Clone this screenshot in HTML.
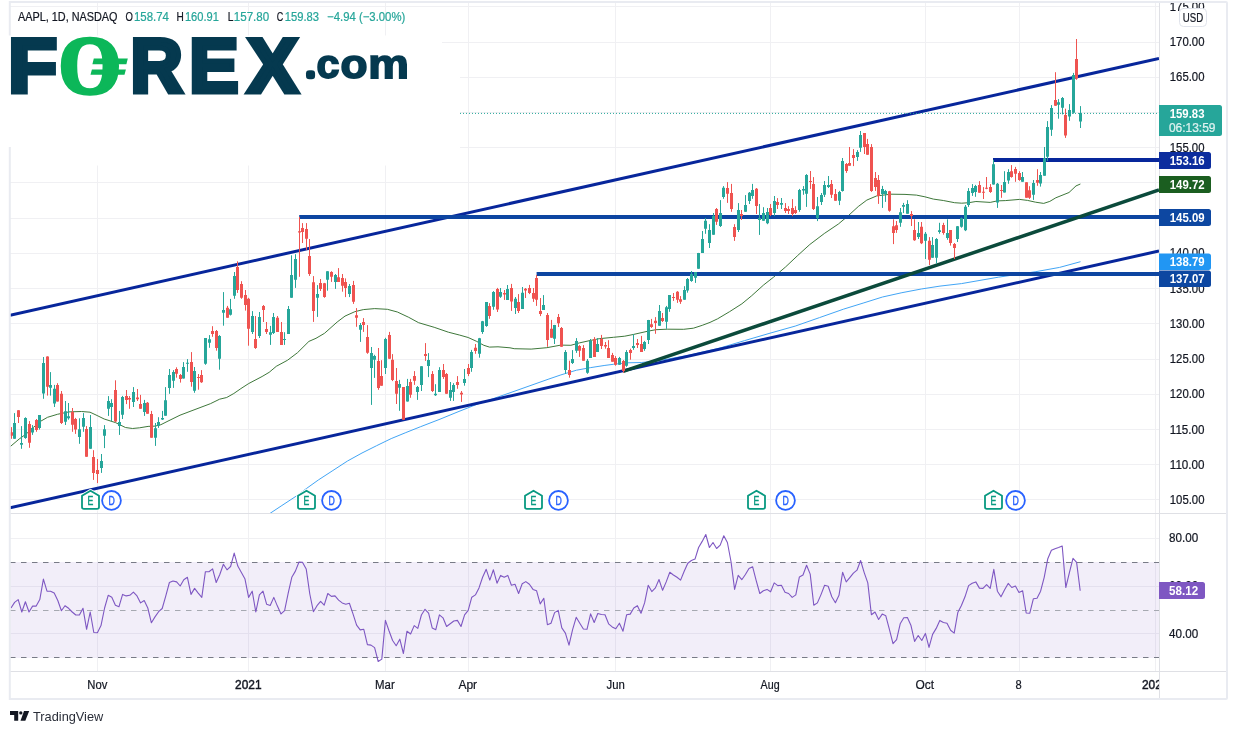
<!DOCTYPE html>
<html lang="en">
<head>
<meta charset="utf-8">
<title>AAPL, 1D, NASDAQ - FOREX.com - TradingView</title>
<style>
html,body{margin:0;padding:0;background:#fff;}
body{width:1237px;height:734px;overflow:hidden;font-family:"Liberation Sans", "DejaVu Sans", sans-serif;}
svg{display:block;}
text{white-space:pre;}
</style>
</head>
<body>
<svg width="1237" height="734" viewBox="0 0 1237 734" font-family='"Liberation Sans", "DejaVu Sans", sans-serif'>
<rect width="1237" height="734" fill="#fff"/>
<g id="grid">
<g stroke="#f0f0f3" stroke-width="1">
<line x1="10" x2="1159" y1="499.5" y2="499.5"/>
<line x1="10" x2="1159" y1="464.5" y2="464.5"/>
<line x1="10" x2="1159" y1="429.5" y2="429.5"/>
<line x1="10" x2="1159" y1="394.5" y2="394.5"/>
<line x1="10" x2="1159" y1="359.5" y2="359.5"/>
<line x1="10" x2="1159" y1="323.5" y2="323.5"/>
<line x1="10" x2="1159" y1="288.5" y2="288.5"/>
<line x1="10" x2="1159" y1="253.5" y2="253.5"/>
<line x1="10" x2="1159" y1="218.5" y2="218.5"/>
<line x1="10" x2="1159" y1="182.5" y2="182.5"/>
<line x1="10" x2="1159" y1="147.5" y2="147.5"/>
<line x1="10" x2="1159" y1="112.5" y2="112.5"/>
<line x1="10" x2="1159" y1="77.5" y2="77.5"/>
<line x1="10" x2="1159" y1="42.5" y2="42.5"/>
<line x1="10" x2="1159" y1="6.5" y2="6.5"/>
<line x1="10" x2="1159" y1="538.5" y2="538.5"/>
<line x1="10" x2="1159" y1="586.5" y2="586.5"/>
<line x1="10" x2="1159" y1="633.5" y2="633.5"/>
<line x1="97.5" x2="97.5" y1="1.9" y2="671.5"/>
<line x1="248.5" x2="248.5" y1="1.9" y2="671.5"/>
<line x1="385.5" x2="385.5" y1="1.9" y2="671.5"/>
<line x1="468.5" x2="468.5" y1="1.9" y2="671.5"/>
<line x1="615.5" x2="615.5" y1="1.9" y2="671.5"/>
<line x1="770.5" x2="770.5" y1="1.9" y2="671.5"/>
<line x1="925.5" x2="925.5" y1="1.9" y2="671.5"/>
<line x1="1019.5" x2="1019.5" y1="1.9" y2="671.5"/>
<line x1="1155.5" x2="1155.5" y1="1.9" y2="671.5"/>
</g>
</g>
<g id="rsi-band">
<rect x="10" y="562" width="1149" height="96" fill="#7e57c2" fill-opacity="0.1"/>
<line x1="10" x2="1159" y1="562.5" y2="562.5" stroke="#787b86" stroke-width="1" stroke-dasharray="5.5 5.5"/>
<line x1="10" x2="1159" y1="610.5" y2="610.5" stroke="#a6a9b1" stroke-width="1" stroke-dasharray="5.5 5.5"/>
<line x1="10" x2="1159" y1="657.5" y2="657.5" stroke="#787b86" stroke-width="1" stroke-dasharray="5.5 5.5"/>
</g>
<g id="chart">
<clipPath id="pc"><rect x="10" y="3" width="1149" height="510.4"/></clipPath>
<g clip-path="url(#pc)">
<polyline points="266.0,516.0 270.9,512.8 281.9,505.5 296.4,496.0 306.6,488.4 318.3,480.0 332.9,470.5 347.5,461.0 362.0,453.0 376.6,445.7 391.2,438.6 405.8,432.6 420.3,426.8 440.0,419.2 458.0,411.8 476.7,404.4 510.0,392.8 548.9,379.0 560.9,374.9 576.5,370.2 590.7,367.6 604.9,365.4 613.4,364.3 627.5,362.8 641.7,362.5 660.0,360.5 690.0,355.0 720.0,348.0 744.3,340.7 771.0,332.9 795.2,326.1 819.5,317.6 843.7,309.1 863.1,303.1 882.5,297.0 901.9,292.7 921.3,289.0 940.0,286.1 961.5,283.6 998.3,277.2 1035.1,271.8 1059.6,267.4 1080.5,261.7" fill="none" stroke="#42a5f5" stroke-width="1.0" stroke-linejoin="round"/>
<polyline points="10.0,446.8 19.2,439.0 26.3,433.9 33.3,427.5 40.4,421.4 47.5,417.3 57.4,414.3 68.8,411.9 81.5,411.5 90.0,412.2 97.1,415.5 104.2,419.0 115.5,422.6 125.4,427.5 132.5,428.5 139.6,427.8 148.1,426.4 155.2,426.1 160.9,424.7 168.0,421.1 180.0,415.2 195.0,409.5 210.4,403.7 219.6,399.2 226.7,397.5 233.8,393.5 240.9,388.6 248.6,383.6 262.1,376.5 269.2,372.3 276.3,366.3 287.6,360.2 297.5,352.7 308.9,341.4 316.0,338.3 324.5,333.3 337.2,322.0 345.0,316.1 354.8,311.7 363.3,309.6 374.7,308.6 387.4,309.3 397.4,312.0 408.7,317.3 418.6,322.7 434.2,327.3 448.4,332.2 459.7,335.1 468.2,337.5 476.7,341.4 483.8,345.3 489.5,347.1 498.0,346.8 510.0,347.8 514.2,348.7 531.2,349.1 546.8,347.7 560.9,345.1 570.9,345.3 579.4,342.9 590.7,340.4 599.2,338.7 613.4,337.3 624.7,336.2 633.2,334.5 647.4,331.3 655.9,329.7 667.2,329.2 683.7,329.3 693.4,328.2 702.3,325.3 710.0,322.4 717.6,318.8 729.7,311.6 741.9,303.8 751.6,295.8 763.7,284.9 773.4,277.3 785.5,267.0 797.7,255.5 809.8,244.5 824.3,233.5 838.4,224.0 848.3,215.7 858.3,206.5 866.8,200.1 876.7,195.9 890.9,194.2 905.0,194.4 916.4,195.1 924.9,196.8 933.4,199.1 943.3,200.5 954.6,202.7 961.7,203.2 968.8,202.7 975.9,201.5 990.2,202.4 997.2,200.9 1005.3,200.6 1019.5,199.4 1027.5,200.4 1035.6,202.2 1043.7,203.4 1049.8,201.4 1055.8,197.8 1069.0,192.5 1076.0,185.9 1080.4,184.0" fill="none" stroke="#34702f" stroke-width="0.95" stroke-linejoin="round"/>
<g stroke-linecap="butt" fill="none">
<line x1="10" y1="315.2" x2="1159" y2="58.4" stroke="#07269b" stroke-width="3.0"/>
<line x1="10" y1="507.8" x2="1159" y2="251.0" stroke="#07269b" stroke-width="3.0"/>
<line x1="299.2" y1="217" x2="1159" y2="217" stroke="#0d45a1" stroke-width="4"/>
<line x1="536.6" y1="274" x2="1159" y2="274" stroke="#0d45a1" stroke-width="4"/>
<line x1="993" y1="160" x2="1159" y2="160" stroke="#07269b" stroke-width="4"/>
<line x1="623.2" y1="371.3" x2="1159" y2="189.9" stroke="#0b4a3b" stroke-width="3.5"/>
</g>
<line x1="460" x2="1159" y1="113.4" y2="113.4" stroke="#26a69a" stroke-width="1" stroke-dasharray="1 2"/>
<path d="M14.5 413.1V438.8M21.5 426.1V448.8M25.5 417.3V438.8M32.5 425.1V434.9M39.5 415.0V429.6M43.5 357.0V398.8M50.5 372.1V395.6M54.5 384.9V407.0M65.5 401.0V425.0M68.5 403.0V419.7M79.5 418.3V443.8M83.5 413.1V431.8M90.5 415.0V448.8M101.5 454.0V472.9M104.5 425.1V448.1M108.5 396.1V415.9M111.5 399.2V421.1M119.5 410.9V434.9M122.5 395.9V419.0M133.5 387.1V407.0M144.5 399.9V415.9M155.5 423.0V445.9M158.5 417.2V427.9M162.5 410.9V420.0M165.5 387.1V415.7M169.5 369.0V393.8M173.5 370.1V387.9M183.5 362.1V378.6M187.5 359.1V371.8M194.5 367.0V392.8M205.5 338.0V364.8M209.5 335.1V347.8M219.5 335.1V369.7M223.5 292.1V325.7M230.5 298.9V315.5M234.5 272.0V298.8M252.5 311.1V334.0M259.5 312.0V338.0M270.5 325.9V344.9M273.5 313.0V334.0M284.5 332.2V344.9M288.5 306.0V334.0M291.5 255.3V297.8M295.5 254.2V287.9M317.5 285.1V316.9M327.5 271.2V290.7M335.5 274.0V288.9M349.5 284.0V297.1M360.5 323.0V341.9M371.5 347.0V404.9M374.5 354.8V377.9M385.5 337.8V374.0M399.5 379.9V410.8M407.5 378.9V401.6M417.5 386.0V399.9M421.5 366.2V391.0M428.5 353.1V377.1M435.5 384.2V395.9M439.5 367.2V392.0M450.5 382.0V400.9M453.5 383.2V400.9M464.5 369.0V385.7M471.5 349.9V371.8M479.5 337.9V357.7M482.5 320.9V333.9M486.5 302.0V326.8M493.5 291.1V309.8M500.5 288.0V297.9M507.5 285.0V299.9M515.5 297.0V314.0M522.5 287.0V309.0M543.5 295.1V310.0M554.5 324.9V344.0M565.5 350.1V373.8M572.5 350.1V364.0M576.5 338.1V352.9M587.5 359.0V373.8M590.5 339.0V357.9M597.5 338.1V351.9M619.5 356.9V364.7M626.5 350.1V366.8M633.5 334.1V349.8M644.5 340.9V350.8M648.5 319.9V344.0M659.5 305.0V325.7M666.5 305.9V328.8M669.5 295.1V311.8M684.5 286.2V299.8M687.5 278.0V292.7M691.5 271.0V281.8M695.5 272.1V282.9M698.5 252.9V268.8M702.5 231.0V252.9M705.5 217.9V233.8M709.5 224.2V248.0M713.5 213.0V234.8M720.5 200.1V227.0M723.5 186.1V198.8M738.5 203.1V232.0M745.5 195.1V211.8M749.5 192.0V204.0M752.5 183.9V198.8M759.5 204.0V234.9M763.5 207.2V220.8M767.5 208.0V224.2M774.5 196.0V216.1M781.5 198.0V209.0M799.5 188.9V211.8M803.5 186.1V194.8M806.5 174.1V206.9M817.5 197.0V221.1M821.5 193.0V205.0M824.5 181.0V197.0M828.5 176.0V188.0M839.5 190.9V205.1M842.5 158.0V191.6M857.5 150.1V160.9M860.5 131.0V151.9M882.5 185.9V207.9M885.5 189.9V201.9M900.5 208.0V226.8M903.5 202.9V213.1M907.5 200.2V213.7M918.5 222.0V239.0M925.5 232.0V259.0M932.5 237.1V257.8M936.5 238.1V263.6M939.5 222.8V233.7M947.5 219.3V239.8M957.5 226.0V242.0M961.5 217.5V227.7M965.5 205.0V231.1M968.5 188.1V206.9M972.5 184.1V195.9M975.5 184.9V196.8M993.5 159.9V184.6M997.5 183.0V207.9M1004.5 171.2V192.5M1008.5 169.2V183.8M1022.5 172.0V181.8M1033.5 180.0V199.9M1040.5 172.0V186.6M1044.5 147.0V175.7M1047.5 121.1V160.9M1051.5 105.1V135.9M1058.5 99.1V118.7M1062.5 97.0V114.4M1069.5 104.1V120.8M1073.5 72.9V113.7M1080.5 106.1V128.0" stroke="#26a69a" stroke-width="1" fill="none"/>
<path d="M13 423.0h3V438.8h-3zM20 443.1h3V444.8h-3zM24 417.9h3V438.1h-3zM31 427.9h3V432.5h-3zM38 415.0h3V427.9h-3zM42 363.1h3V393.5h-3zM49 384.9h3V387.7h-3zM53 388.8h3V403.4h-3zM64 411.2h3V421.8h-3zM67 416.2h3V418.3h-3zM78 429.2h3V437.0h-3zM82 417.9h3V426.8h-3zM89 427.1h3V448.8h-3zM100 461.1h3V467.9h-3zM103 429.2h3V435.7h-3zM107 401.0h3V408.8h-3zM110 403.1h3V407.0h-3zM118 422.1h3V426.1h-3zM121 397.0h3V414.8h-3zM132 392.1h3V402.0h-3zM143 403.0h3V411.9h-3zM154 428.2h3V437.7h-3zM157 422.1h3V425.8h-3zM161 418.0h3V419.4h-3zM164 400.2h3V415.7h-3zM168 375.1h3V387.9h-3zM172 372.0h3V380.8h-3zM182 367.0h3V378.6h-3zM186 362.8h3V363.8h-3zM193 371.1h3V390.7h-3zM204 338.0h3V363.8h-3zM208 339.3h3V342.8h-3zM218 336.1h3V358.8h-3zM222 309.9h3V312.7h-3zM229 309.2h3V314.8h-3zM233 276.1h3V295.7h-3zM251 316.0h3V331.9h-3zM258 317.0h3V335.9h-3zM269 332.2h3V334.7h-3zM272 317.0h3V333.0h-3zM283 339.0h3V340.0h-3zM287 308.9h3V334.0h-3zM290 275.1h3V297.8h-3zM294 259.1h3V279.7h-3zM316 294.0h3V297.8h-3zM326 271.2h3V279.7h-3zM334 274.9h3V281.9h-3zM348 285.9h3V294.0h-3zM359 324.9h3V329.8h-3zM370 353.0h3V367.9h-3zM373 356.0h3V359.8h-3zM384 339.0h3V367.9h-3zM398 383.9h3V387.7h-3zM406 386.0h3V401.6h-3zM416 387.0h3V392.0h-3zM420 366.2h3V384.9h-3zM427 360.1h3V365.9h-3zM434 393.8h3V395.2h-3zM438 370.0h3V392.0h-3zM449 390.0h3V397.8h-3zM452 384.9h3V392.0h-3zM463 378.9h3V382.9h-3zM470 352.0h3V367.9h-3zM478 338.2h3V353.8h-3zM481 321.2h3V331.9h-3zM485 302.0h3V325.9h-3zM492 292.1h3V306.7h-3zM499 292.1h3V296.8h-3zM506 289.0h3V299.9h-3zM514 298.8h3V307.9h-3zM521 292.7h3V309.0h-3zM542 305.0h3V310.0h-3zM553 324.9h3V338.8h-3zM564 351.9h3V369.9h-3zM571 359.0h3V362.9h-3zM575 340.9h3V350.8h-3zM586 360.7h3V372.8h-3zM589 340.9h3V357.9h-3zM596 344.0h3V351.9h-3zM618 357.9h3V364.7h-3zM625 351.9h3V365.7h-3zM632 346.1h3V348.0h-3zM643 342.0h3V349.0h-3zM647 319.9h3V339.9h-3zM658 311.1h3V325.7h-3zM665 307.2h3V321.8h-3zM668 295.1h3V309.0h-3zM683 290.1h3V299.8h-3zM686 278.9h3V290.6h-3zM690 274.1h3V281.0h-3zM694 272.1h3V277.7h-3zM697 252.9h3V268.8h-3zM701 239.0h3V252.9h-3zM704 220.8h3V228.8h-3zM708 230.0h3V243.0h-3zM712 216.1h3V234.8h-3zM719 213.0h3V226.0h-3zM722 187.8h3V197.0h-3zM737 210.0h3V230.0h-3zM744 205.0h3V211.8h-3zM748 192.7h3V200.9h-3zM751 189.9h3V196.0h-3zM758 217.9h3V219.9h-3zM762 213.0h3V220.8h-3zM766 212.1h3V223.2h-3zM773 200.9h3V213.0h-3zM780 203.1h3V204.8h-3zM798 189.9h3V210.0h-3zM802 188.9h3V190.6h-3zM805 175.1h3V193.8h-3zM816 206.2h3V217.9h-3zM820 195.1h3V201.9h-3zM823 184.9h3V194.8h-3zM827 184.9h3V187.0h-3zM838 192.0h3V200.8h-3zM841 160.9h3V190.9h-3zM856 151.9h3V156.9h-3zM859 134.9h3V147.7h-3zM881 189.0h3V194.0h-3zM884 190.9h3V194.0h-3zM899 212.3h3V222.8h-3zM902 205.0h3V206.8h-3zM906 204.0h3V213.7h-3zM917 232.9h3V237.1h-3zM924 233.7h3V240.8h-3zM931 245.0h3V257.8h-3zM935 239.0h3V257.8h-3zM938 230.2h3V232.0h-3zM946 232.9h3V238.0h-3zM956 226.2h3V239.0h-3zM960 218.3h3V226.8h-3zM964 206.8h3V230.2h-3zM967 190.9h3V205.1h-3zM971 188.1h3V193.0h-3zM974 185.9h3V192.0h-3zM992 164.2h3V184.6h-3zM996 183.7h3V202.6h-3zM1003 182.1h3V192.5h-3zM1007 172.0h3V180.6h-3zM1021 177.0h3V181.8h-3zM1032 183.0h3V194.8h-3zM1039 175.0h3V183.6h-3zM1043 158.3h3V175.7h-3zM1046 127.0h3V156.8h-3zM1050 108.0h3V129.7h-3zM1057 102.2h3V104.7h-3zM1061 98.0h3V107.7h-3zM1068 110.1h3V116.6h-3zM1072 75.1h3V112.7h-3zM1079 113.0h3V121.6h-3z" fill="#26a69a"/>
<path d="M11.5 427.1V438.8M18.5 410.2V423.0M29.5 421.1V447.8M36.5 419.0V431.8M47.5 356.3V395.6M57.5 383.2V401.6M61.5 391.0V424.0M72.5 408.0V431.8M75.5 417.9V433.9M86.5 426.1V456.8M93.5 450.2V479.9M97.5 459.0V483.1M115.5 380.3V422.1M126.5 390.0V404.1M129.5 396.1V408.8M137.5 389.0V401.0M140.5 394.9V408.8M147.5 402.0V413.8M151.5 410.9V437.7M176.5 367.3V377.7M180.5 374.0V382.6M191.5 352.1V386.7M198.5 374.0V389.7M201.5 370.1V382.9M212.5 326.2V336.8M216.5 330.0V350.7M227.5 305.9V317.7M237.5 261.3V292.9M241.5 281.2V298.8M245.5 290.0V310.6M248.5 297.8V345.7M255.5 316.0V348.9M263.5 305.0V322.0M266.5 322.0V334.0M277.5 316.0V331.9M281.5 322.0V344.9M299.5 217.0V276.8M302.5 223.1V243.0M306.5 223.1V249.9M309.5 239.0V275.9M313.5 276.1V321.9M320.5 279.0V291.0M324.5 282.9V297.8M331.5 271.2V281.9M338.5 268.1V281.9M342.5 274.0V291.7M345.5 278.4V297.1M353.5 280.9V303.9M356.5 308.1V326.8M363.5 318.1V331.9M367.5 325.1V353.8M378.5 348.0V389.8M381.5 360.2V385.7M389.5 331.9V358.8M392.5 354.1V381.1M396.5 368.0V404.0M403.5 387.0V419.7M410.5 378.9V397.8M414.5 371.1V384.9M425.5 343.1V360.9M432.5 371.1V392.0M443.5 364.0V378.9M446.5 373.0V393.8M457.5 376.1V388.8M461.5 391.0V401.9M468.5 364.0V376.1M475.5 344.0V353.8M489.5 303.2V318.8M497.5 287.9V312.0M504.5 290.0V299.9M511.5 283.9V310.9M518.5 294.1V313.0M525.5 288.0V298.0M529.5 284.9V294.1M533.5 288.0V301.9M536.5 275.0V305.9M540.5 298.0V316.1M547.5 313.0V346.8M551.5 319.9V337.8M558.5 314.0V327.0M561.5 327.0V346.8M569.5 360.7V377.7M579.5 345.1V356.9M583.5 345.1V360.7M594.5 337.1V356.9M601.5 334.9V349.0M605.5 342.0V348.7M608.5 340.2V357.9M612.5 352.9V361.7M615.5 356.1V365.7M623.5 360.0V372.8M630.5 348.7V359.7M637.5 339.0V348.0M641.5 335.9V351.9M651.5 318.9V327.9M655.5 317.1V333.8M662.5 313.0V322.0M673.5 293.0V300.9M677.5 291.1V302.9M680.5 296.1V303.9M716.5 208.0V224.9M727.5 182.1V202.9M731.5 183.9V211.8M734.5 224.2V240.9M741.5 210.0V219.9M756.5 188.0V214.0M770.5 204.0V216.1M777.5 198.1V209.0M785.5 203.1V213.0M788.5 206.2V214.0M792.5 199.1V216.1M795.5 206.2V214.0M810.5 171.0V188.9M813.5 177.1V210.0M831.5 180.0V198.0M835.5 189.0V200.8M846.5 163.0V172.9M849.5 147.0V165.8M853.5 149.1V166.1M864.5 133.1V154.0M867.5 138.9V154.8M871.5 144.1V191.9M875.5 172.0V190.9M878.5 175.0V203.9M889.5 190.9V211.7M893.5 219.3V244.1M896.5 221.0V232.9M911.5 211.1V226.0M914.5 219.3V240.8M921.5 222.0V244.1M929.5 237.1V265.0M943.5 222.8V234.7M950.5 230.1V245.6M954.5 243.0V259.0M979.5 181.1V192.7M983.5 187.1V199.0M986.5 177.0V189.2M990.5 184.1V192.9M1001.5 185.0V197.8M1011.5 165.1V177.7M1015.5 166.9V181.8M1019.5 171.2V180.8M1026.5 182.2V197.8M1029.5 186.2V198.9M1037.5 169.2V185.8M1055.5 72.2V105.8M1065.5 108.7V137.9M1076.5 39.0V79.8" stroke="#ef5350" stroke-width="1" fill="none"/>
<path d="M10 432.2h3V435.7h-3zM17 410.2h3V416.9h-3zM28 424.0h3V442.8h-3zM35 420.0h3V430.1h-3zM46 356.5h3V386.7h-3zM56 384.9h3V401.6h-3zM60 393.8h3V423.0h-3zM71 411.9h3V424.7h-3zM74 419.0h3V429.6h-3zM85 428.9h3V456.8h-3zM92 457.0h3V472.9h-3zM96 470.0h3V474.0h-3zM114 390.0h3V421.4h-3zM125 396.1h3V399.9h-3zM128 398.0h3V399.6h-3zM136 397.5h3V399.2h-3zM139 404.1h3V408.8h-3zM146 402.7h3V413.8h-3zM150 414.0h3V437.7h-3zM175 369.0h3V373.7h-3zM179 375.1h3V378.9h-3zM190 362.1h3V381.9h-3zM197 376.9h3V377.9h-3zM200 375.1h3V382.2h-3zM211 330.9h3V334.0h-3zM215 330.9h3V347.9h-3zM226 307.7h3V317.7h-3zM236 266.9h3V290.0h-3zM240 284.1h3V297.8h-3zM244 295.0h3V304.9h-3zM247 298.8h3V328.7h-3zM254 339.0h3V347.9h-3zM262 306.0h3V309.9h-3zM265 329.0h3V331.9h-3zM276 317.7h3V331.9h-3zM280 331.9h3V344.9h-3zM298 231.2h3V232.6h-3zM301 228.1h3V231.9h-3zM305 229.1h3V238.7h-3zM308 256.0h3V274.0h-3zM312 282.2h3V310.9h-3zM319 282.9h3V289.0h-3zM323 283.2h3V297.1h-3zM330 272.0h3V276.8h-3zM337 277.3h3V281.9h-3zM341 278.0h3V285.8h-3zM344 281.9h3V287.9h-3zM352 285.0h3V301.8h-3zM355 315.2h3V317.8h-3zM362 322.0h3V324.9h-3zM366 336.9h3V352.8h-3zM377 360.9h3V388.1h-3zM380 376.1h3V385.7h-3zM388 335.0h3V358.8h-3zM391 359.8h3V379.9h-3zM395 381.1h3V393.8h-3zM402 387.0h3V419.7h-3zM409 382.0h3V394.8h-3zM413 376.1h3V380.8h-3zM424 354.1h3V356.0h-3zM431 374.0h3V391.0h-3zM442 370.0h3V377.1h-3zM445 374.0h3V393.8h-3zM456 382.0h3V384.9h-3zM460 392.8h3V394.5h-3zM467 368.0h3V374.0h-3zM474 347.8h3V351.1h-3zM488 306.0h3V315.9h-3zM496 289.0h3V309.6h-3zM503 293.0h3V294.4h-3zM510 288.0h3V301.6h-3zM517 301.9h3V310.9h-3zM524 288.7h3V290.6h-3zM528 288.0h3V293.1h-3zM532 293.0h3V298.8h-3zM535 278.1h3V299.8h-3zM539 311.1h3V314.0h-3zM546 315.1h3V339.9h-3zM550 328.8h3V337.8h-3zM557 317.1h3V323.2h-3zM560 327.9h3V346.8h-3zM568 369.9h3V374.9h-3zM578 345.9h3V350.8h-3zM582 348.0h3V360.7h-3zM593 339.0h3V356.9h-3zM600 339.0h3V345.9h-3zM604 344.9h3V346.6h-3zM607 348.0h3V357.9h-3zM611 355.1h3V361.7h-3zM614 357.9h3V364.7h-3zM622 361.0h3V371.1h-3zM629 350.1h3V352.9h-3zM636 343.0h3V344.9h-3zM640 344.0h3V351.9h-3zM650 324.2h3V327.0h-3zM654 320.8h3V322.9h-3zM661 317.9h3V321.1h-3zM672 297.0h3V298.0h-3zM676 291.8h3V299.8h-3zM679 299.3h3V301.8h-3zM715 209.0h3V221.8h-3zM726 188.0h3V193.8h-3zM730 193.0h3V209.0h-3zM733 227.0h3V236.9h-3zM740 214.0h3V216.1h-3zM755 188.7h3V205.9h-3zM769 208.0h3V215.1h-3zM776 201.9h3V205.0h-3zM784 208.0h3V210.9h-3zM787 209.0h3V210.9h-3zM791 208.0h3V214.0h-3zM794 210.0h3V213.0h-3zM809 181.0h3V182.1h-3zM812 183.9h3V209.0h-3zM830 183.9h3V194.8h-3zM834 194.0h3V200.8h-3zM845 164.0h3V171.1h-3zM848 163.0h3V165.8h-3zM852 155.0h3V157.9h-3zM863 133.1h3V147.0h-3zM866 144.1h3V154.8h-3zM870 147.0h3V190.9h-3zM874 178.1h3V186.9h-3zM877 180.0h3V195.9h-3zM888 191.2h3V210.7h-3zM892 226.2h3V232.9h-3zM895 225.3h3V230.1h-3zM910 214.1h3V215.9h-3zM913 230.1h3V240.2h-3zM920 226.8h3V243.2h-3zM928 240.8h3V259.8h-3zM942 225.0h3V232.9h-3zM949 230.1h3V243.0h-3zM953 244.1h3V248.1h-3zM978 184.9h3V192.7h-3zM982 191.7h3V192.7h-3zM985 187.7h3V188.7h-3zM989 187.1h3V191.9h-3zM1000 190.1h3V191.1h-3zM1010 171.2h3V177.0h-3zM1014 169.0h3V173.7h-3zM1018 173.0h3V180.1h-3zM1025 182.2h3V197.8h-3zM1028 190.3h3V197.8h-3zM1036 180.1h3V182.8h-3zM1054 100.1h3V105.8h-3zM1064 115.1h3V135.6h-3zM1075 59.0h3V78.6h-3z" fill="#ef5350"/>
<path d="M82.0 495.7L90.5 490.7L99.0 495.7V507q0 1.8 -1.8 1.8H83.8q-1.8 0 -1.8 -1.8Z" fill="#fff" stroke="#fff" stroke-width="3.6" stroke-linejoin="round"/>
<path d="M82.0 495.7L90.5 490.7L99.0 495.7V507q0 1.8 -1.8 1.8H83.8q-1.8 0 -1.8 -1.8Z" fill="#fff" stroke="#089981" stroke-width="1.8" stroke-linejoin="round"/>
<text x="87.6" y="504.7" font-size="12.2" fill="#089981" stroke="#089981" stroke-width="0.45" textLength="5.8" lengthAdjust="spacingAndGlyphs">E</text>
<path d="M298.0 495.7L306.5 490.7L315.0 495.7V507q0 1.8 -1.8 1.8H299.8q-1.8 0 -1.8 -1.8Z" fill="#fff" stroke="#fff" stroke-width="3.6" stroke-linejoin="round"/>
<path d="M298.0 495.7L306.5 490.7L315.0 495.7V507q0 1.8 -1.8 1.8H299.8q-1.8 0 -1.8 -1.8Z" fill="#fff" stroke="#089981" stroke-width="1.8" stroke-linejoin="round"/>
<text x="303.6" y="504.7" font-size="12.2" fill="#089981" stroke="#089981" stroke-width="0.45" textLength="5.8" lengthAdjust="spacingAndGlyphs">E</text>
<path d="M525.0 495.7L533.5 490.7L542.0 495.7V507q0 1.8 -1.8 1.8H526.8q-1.8 0 -1.8 -1.8Z" fill="#fff" stroke="#fff" stroke-width="3.6" stroke-linejoin="round"/>
<path d="M525.0 495.7L533.5 490.7L542.0 495.7V507q0 1.8 -1.8 1.8H526.8q-1.8 0 -1.8 -1.8Z" fill="#fff" stroke="#089981" stroke-width="1.8" stroke-linejoin="round"/>
<text x="530.6" y="504.7" font-size="12.2" fill="#089981" stroke="#089981" stroke-width="0.45" textLength="5.8" lengthAdjust="spacingAndGlyphs">E</text>
<path d="M748.0 495.7L756.5 490.7L765.0 495.7V507q0 1.8 -1.8 1.8H749.8q-1.8 0 -1.8 -1.8Z" fill="#fff" stroke="#fff" stroke-width="3.6" stroke-linejoin="round"/>
<path d="M748.0 495.7L756.5 490.7L765.0 495.7V507q0 1.8 -1.8 1.8H749.8q-1.8 0 -1.8 -1.8Z" fill="#fff" stroke="#089981" stroke-width="1.8" stroke-linejoin="round"/>
<text x="753.6" y="504.7" font-size="12.2" fill="#089981" stroke="#089981" stroke-width="0.45" textLength="5.8" lengthAdjust="spacingAndGlyphs">E</text>
<path d="M985.0 495.7L993.5 490.7L1002.0 495.7V507q0 1.8 -1.8 1.8H986.8q-1.8 0 -1.8 -1.8Z" fill="#fff" stroke="#fff" stroke-width="3.6" stroke-linejoin="round"/>
<path d="M985.0 495.7L993.5 490.7L1002.0 495.7V507q0 1.8 -1.8 1.8H986.8q-1.8 0 -1.8 -1.8Z" fill="#fff" stroke="#089981" stroke-width="1.8" stroke-linejoin="round"/>
<text x="990.6" y="504.7" font-size="12.2" fill="#089981" stroke="#089981" stroke-width="0.45" textLength="5.8" lengthAdjust="spacingAndGlyphs">E</text>
<circle cx="111.5" cy="500.4" r="10.4" fill="#fff"/>
<circle cx="111.5" cy="500.4" r="9.4" fill="#fff" stroke="#2962ff" stroke-width="1.8"/>
<text x="108.6" y="504.7" font-size="12.2" fill="#2962ff" stroke="#2962ff" stroke-width="0.45" textLength="6.3" lengthAdjust="spacingAndGlyphs">D</text>
<circle cx="331.5" cy="500.4" r="10.4" fill="#fff"/>
<circle cx="331.5" cy="500.4" r="9.4" fill="#fff" stroke="#2962ff" stroke-width="1.8"/>
<text x="328.6" y="504.7" font-size="12.2" fill="#2962ff" stroke="#2962ff" stroke-width="0.45" textLength="6.3" lengthAdjust="spacingAndGlyphs">D</text>
<circle cx="558.5" cy="500.4" r="10.4" fill="#fff"/>
<circle cx="558.5" cy="500.4" r="9.4" fill="#fff" stroke="#2962ff" stroke-width="1.8"/>
<text x="555.6" y="504.7" font-size="12.2" fill="#2962ff" stroke="#2962ff" stroke-width="0.45" textLength="6.3" lengthAdjust="spacingAndGlyphs">D</text>
<circle cx="785.5" cy="500.4" r="10.4" fill="#fff"/>
<circle cx="785.5" cy="500.4" r="9.4" fill="#fff" stroke="#2962ff" stroke-width="1.8"/>
<text x="782.6" y="504.7" font-size="12.2" fill="#2962ff" stroke="#2962ff" stroke-width="0.45" textLength="6.3" lengthAdjust="spacingAndGlyphs">D</text>
<circle cx="1015.5" cy="500.4" r="10.4" fill="#fff"/>
<circle cx="1015.5" cy="500.4" r="9.4" fill="#fff" stroke="#2962ff" stroke-width="1.8"/>
<text x="1012.6" y="504.7" font-size="12.2" fill="#2962ff" stroke="#2962ff" stroke-width="0.45" textLength="6.3" lengthAdjust="spacingAndGlyphs">D</text>
</g>
<polyline points="11.0,608.0 14.6,602.4 18.2,599.6 21.8,612.0 25.4,601.8 29.0,612.0 32.6,606.1 36.2,606.1 39.8,599.6 43.4,579.1 47.0,591.2 50.6,591.2 54.2,593.1 57.8,600.5 61.4,610.7 65.0,605.7 68.6,608.3 72.2,612.0 75.8,615.0 79.4,615.0 83.0,608.3 86.6,629.3 90.2,612.0 93.8,632.5 97.4,632.7 101.0,625.6 104.6,608.0 108.2,595.3 111.8,597.2 115.4,605.2 119.0,606.7 122.6,594.4 126.2,595.9 129.8,595.3 133.4,592.2 137.0,595.9 140.6,602.9 144.2,600.5 147.8,608.0 151.4,622.8 155.0,616.9 158.6,611.7 162.2,608.5 165.8,595.9 169.4,582.5 173.0,581.0 176.6,581.9 180.2,586.0 183.8,579.7 187.4,577.3 191.0,594.4 194.6,588.4 198.2,593.1 201.8,597.4 205.4,571.7 209.0,571.7 212.6,568.9 216.2,582.5 219.8,574.5 223.4,564.3 227.0,569.8 230.6,566.5 234.2,553.1 237.8,566.1 241.4,572.6 245.0,579.1 248.6,597.4 252.2,591.2 255.8,612.0 259.4,594.9 263.0,591.2 266.6,604.2 270.2,605.5 273.8,597.4 277.4,606.1 281.0,613.9 284.6,610.7 288.2,593.1 291.8,577.3 295.4,571.1 299.0,562.0 302.6,562.4 306.2,568.9 309.8,594.0 313.4,611.7 317.0,605.7 320.6,601.4 324.2,605.2 327.8,593.5 331.4,596.4 335.0,595.9 338.6,600.1 342.2,602.9 345.8,604.2 349.4,603.3 353.0,613.9 356.6,625.1 360.2,629.9 363.8,629.3 367.4,644.6 371.0,645.1 374.6,647.6 378.2,661.5 381.8,659.1 385.4,620.4 389.0,630.8 392.6,640.5 396.2,645.7 399.8,639.2 403.4,653.5 407.0,631.2 410.6,634.0 414.2,625.6 417.8,628.4 421.4,615.0 425.0,609.3 428.6,613.2 432.2,627.9 435.8,629.7 439.4,614.8 443.0,617.8 446.6,626.5 450.2,623.8 453.8,621.0 457.4,620.4 461.0,626.5 464.6,614.8 468.2,610.4 471.8,597.2 475.4,594.9 479.0,587.9 482.6,577.3 486.2,569.3 489.8,580.1 493.4,569.8 497.0,583.2 500.6,575.4 504.2,577.3 507.8,575.4 511.4,585.3 515.0,584.2 518.6,593.5 522.2,583.8 525.8,581.6 529.4,584.3 533.0,589.4 536.6,590.8 540.2,603.9 543.8,598.3 547.4,624.7 551.0,623.2 554.6,612.6 558.2,610.4 561.8,627.9 565.4,633.1 569.0,645.1 572.6,629.7 576.2,617.3 579.8,623.2 583.4,629.0 587.0,629.3 590.6,613.9 594.2,622.5 597.8,613.5 601.4,614.5 605.0,614.8 608.6,623.8 612.2,626.9 615.8,628.8 619.4,623.2 623.0,631.2 626.6,614.8 630.2,614.1 633.8,608.0 637.4,605.7 641.0,613.2 644.6,602.9 648.2,585.3 651.8,591.6 655.4,587.9 659.0,579.5 662.6,590.3 666.2,581.9 669.8,572.3 673.4,575.0 677.0,577.3 680.6,580.1 684.2,571.3 687.8,563.3 691.4,560.5 695.0,559.1 698.6,547.5 702.2,541.4 705.8,534.5 709.4,547.5 713.0,542.5 716.6,548.5 720.2,545.1 723.8,535.8 727.4,542.5 731.0,561.5 734.6,589.4 738.2,575.4 741.8,579.7 745.4,574.5 749.0,568.5 752.6,566.7 756.2,580.6 759.8,593.5 763.4,590.7 767.0,589.4 770.6,591.8 774.2,582.9 777.8,585.6 781.4,585.3 785.0,592.2 788.6,593.5 792.2,597.4 795.8,594.9 799.4,576.9 803.0,575.0 806.6,565.2 810.2,574.1 813.8,605.2 817.4,602.9 821.0,594.6 824.6,585.3 828.2,586.2 831.8,596.8 835.4,602.7 839.0,595.3 842.6,572.3 846.2,581.9 849.8,577.6 853.4,573.2 857.0,570.2 860.6,560.5 864.2,572.6 867.8,582.9 871.4,614.8 875.0,612.0 878.6,619.5 882.2,614.1 885.8,615.8 889.4,629.3 893.0,643.7 896.6,639.6 900.2,623.8 903.8,617.8 907.4,617.6 911.0,625.6 914.6,641.4 918.2,635.5 921.8,640.5 925.4,633.4 929.0,647.4 932.6,634.4 936.2,628.4 939.8,620.4 943.4,622.5 947.0,623.2 950.6,630.3 954.2,633.1 957.8,612.6 961.4,605.5 965.0,596.8 968.6,585.6 972.2,583.2 975.8,581.9 979.4,588.1 983.0,588.4 986.6,584.7 990.2,588.4 993.8,569.3 997.4,591.2 1001.0,596.8 1004.6,589.7 1008.2,583.4 1011.8,587.5 1015.4,586.0 1019.0,592.5 1022.6,590.7 1026.2,613.0 1029.8,613.2 1033.4,598.7 1037.0,598.3 1040.6,591.2 1044.2,577.3 1047.8,558.7 1051.4,550.3 1055.0,548.8 1058.6,547.5 1062.2,546.0 1065.8,587.5 1069.4,572.6 1073.0,558.3 1076.6,562.4 1080.2,590.7" fill="none" stroke="#7e57c2" stroke-width="1.1" stroke-linejoin="round"/>
</g>
<g id="legend">
<text y="21.3" font-size="12.3" stroke-width="0.22">
<tspan x="18.0" fill="#131722" stroke="#131722" textLength="99.5" lengthAdjust="spacingAndGlyphs">AAPL, 1D, NASDAQ</tspan>
<tspan fill="none" stroke="none">  </tspan>
<tspan x="125.4" fill="#131722" stroke="#131722" textLength="7.4" lengthAdjust="spacingAndGlyphs">O</tspan>
<tspan x="134.0" fill="#26a69a" stroke="#26a69a" textLength="34.9" lengthAdjust="spacingAndGlyphs">158.74</tspan>
<tspan fill="none" stroke="none">  </tspan>
<tspan x="176.4" fill="#131722" stroke="#131722" textLength="7.3" lengthAdjust="spacingAndGlyphs">H</tspan>
<tspan x="184.9" fill="#26a69a" stroke="#26a69a" textLength="34.0" lengthAdjust="spacingAndGlyphs">160.91</tspan>
<tspan fill="none" stroke="none">  </tspan>
<tspan x="227.8" fill="#131722" stroke="#131722" textLength="5.3" lengthAdjust="spacingAndGlyphs">L</tspan>
<tspan x="233.8" fill="#26a69a" stroke="#26a69a" textLength="35.4" lengthAdjust="spacingAndGlyphs">157.80</tspan>
<tspan fill="none" stroke="none">  </tspan>
<tspan x="276.7" fill="#131722" stroke="#131722" textLength="6.5" lengthAdjust="spacingAndGlyphs">C</tspan>
<tspan x="284.7" fill="#26a69a" stroke="#26a69a" textLength="34.3" lengthAdjust="spacingAndGlyphs">159.83</tspan>
<tspan fill="none" stroke="none">  </tspan>
<tspan x="327.1" fill="#26a69a" stroke="#26a69a" textLength="78.2" lengthAdjust="spacingAndGlyphs">−4.94 (−3.00%)</tspan>
</text>
</g>
<g id="logo">
<path d="M0 35.5H442V60H460V165.5H10.5V147H0Z" fill="#fff"/>
<text aria-label="FOREX.com" font-weight="bold" fill="#05394f" stroke="#05394f" stroke-linejoin="miter" font-size="75.6" stroke-width="5"><tspan x="8.2" y="91.7" textLength="48.89" lengthAdjust="spacingAndGlyphs">F</tspan><tspan x="58.55" y="92.8" textLength="62.81" lengthAdjust="spacingAndGlyphs" font-size="82" stroke-width="3.4" font-family="Liberation Serif, serif" fill="#0cb759" stroke="#0cb759">O</tspan><tspan x="130.5" y="91.7" textLength="52.19" lengthAdjust="spacingAndGlyphs">R</tspan><tspan x="189.35" y="91.7" textLength="49.31" lengthAdjust="spacingAndGlyphs">E</tspan><tspan x="247.4" y="91.7" textLength="50.28" lengthAdjust="spacingAndGlyphs">X</tspan><tspan x="308.2" y="75.55" textLength="4.58" lengthAdjust="spacingAndGlyphs" font-size="16" stroke-width="6.6" stroke-linejoin="round">.</tspan><tspan x="316.4" y="78.05" textLength="22.93" lengthAdjust="spacingAndGlyphs" font-size="41" stroke-width="1.75">c</tspan><tspan x="340.55" y="78.05" textLength="27.01" lengthAdjust="spacingAndGlyphs" font-size="41" stroke-width="1.75">o</tspan><tspan x="368.35" y="78.05" textLength="40.62" lengthAdjust="spacingAndGlyphs" font-size="41" stroke-width="1.75">m</tspan></text><path d="M93.8 58.6H127.8L126.4 64.2H92.4Z M91.9 69.4H125.9L124.5 74.7H90.5Z" fill="#0cb759"/>
</g>
<g id="axes">
<rect x="1159" y="0" width="78" height="734" fill="#fff"/>
<rect x="0" y="671.5" width="1237" height="62.5" fill="#fff"/>
<line x1="1159.5" x2="1159.5" y1="1.9" y2="699.0" stroke="#dfe0e5" stroke-width="1"/>
<text x="1169.8" y="503.9" font-size="12.3" fill="#131722" stroke="#131722" stroke-width="0.22" textLength="34.7" lengthAdjust="spacingAndGlyphs">105.00</text>
<text x="1169.8" y="468.9" font-size="12.3" fill="#131722" stroke="#131722" stroke-width="0.22" textLength="34.7" lengthAdjust="spacingAndGlyphs">110.00</text>
<text x="1169.8" y="433.9" font-size="12.3" fill="#131722" stroke="#131722" stroke-width="0.22" textLength="34.7" lengthAdjust="spacingAndGlyphs">115.00</text>
<text x="1169.8" y="397.9" font-size="12.3" fill="#131722" stroke="#131722" stroke-width="0.22" textLength="34.7" lengthAdjust="spacingAndGlyphs">120.00</text>
<text x="1169.8" y="362.9" font-size="12.3" fill="#131722" stroke="#131722" stroke-width="0.22" textLength="34.7" lengthAdjust="spacingAndGlyphs">125.00</text>
<text x="1169.8" y="327.9" font-size="12.3" fill="#131722" stroke="#131722" stroke-width="0.22" textLength="34.7" lengthAdjust="spacingAndGlyphs">130.00</text>
<text x="1169.8" y="292.9" font-size="12.3" fill="#131722" stroke="#131722" stroke-width="0.22" textLength="34.7" lengthAdjust="spacingAndGlyphs">135.00</text>
<text x="1169.8" y="256.9" font-size="12.3" fill="#131722" stroke="#131722" stroke-width="0.22" textLength="34.7" lengthAdjust="spacingAndGlyphs">140.00</text>
<text x="1169.8" y="151.9" font-size="12.3" fill="#131722" stroke="#131722" stroke-width="0.22" textLength="34.7" lengthAdjust="spacingAndGlyphs">155.00</text>
<text x="1169.8" y="80.9" font-size="12.3" fill="#131722" stroke="#131722" stroke-width="0.22" textLength="34.7" lengthAdjust="spacingAndGlyphs">165.00</text>
<text x="1169.8" y="45.9" font-size="12.3" fill="#131722" stroke="#131722" stroke-width="0.22" textLength="34.7" lengthAdjust="spacingAndGlyphs">170.00</text>
<text x="1169.8" y="10.9" font-size="12.3" fill="#131722" stroke="#131722" stroke-width="0.22" textLength="34.7" lengthAdjust="spacingAndGlyphs">175.00</text>
<text x="1169.1" y="542.0" font-size="12.3" fill="#131722" stroke="#131722" stroke-width="0.22" textLength="29.2" lengthAdjust="spacingAndGlyphs">80.00</text>
<text x="1169.1" y="589.8" font-size="12.3" fill="#131722" stroke="#131722" stroke-width="0.22" textLength="29.2" lengthAdjust="spacingAndGlyphs">60.00</text>
<text x="1169.1" y="638.0" font-size="12.3" fill="#131722" stroke="#131722" stroke-width="0.22" textLength="29.2" lengthAdjust="spacingAndGlyphs">40.00</text>
<rect x="1179.5" y="8.5" width="27" height="18" rx="4" fill="#fff" stroke="#e0e3eb" stroke-width="1"/>
<text x="1182.8" y="21.9" font-size="12.3" fill="#131722" stroke="#131722" stroke-width="0.22" textLength="20.4" lengthAdjust="spacingAndGlyphs">USD</text>
<path d="M1159 105H1219.5q2.5 0 2.5 2.5V133.5q0 2.5 -2.5 2.5H1159Z" fill="#26a69a"/>
<text x="1169.7" y="117.9" font-size="12.3" fill="#fff" font-weight="bold" textLength="34.8" lengthAdjust="spacingAndGlyphs">159.83</text>
<text x="1168.9" y="132.0" font-size="12.3" fill="#fff" stroke="#fff" stroke-width="0.22" textLength="46.6" lengthAdjust="spacingAndGlyphs" fill-opacity="0.78">06:13:59</text>
<path d="M1159 152H1208.5q2.5 0 2.5 2.5V166.5q0 2.5 -2.5 2.5H1159Z" fill="#0c2d9e"/>
<text x="1169.7" y="164.8" font-size="12.3" fill="#fff" font-weight="bold" textLength="34.9" lengthAdjust="spacingAndGlyphs">153.16</text>
<path d="M1159 176H1208.5q2.5 0 2.5 2.5V190.5q0 2.5 -2.5 2.5H1159Z" fill="#1b5e20"/>
<text x="1169.7" y="188.8" font-size="12.3" fill="#fff" font-weight="bold" textLength="34.9" lengthAdjust="spacingAndGlyphs">149.72</text>
<path d="M1159 209H1208.5q2.5 0 2.5 2.5V223.5q0 2.5 -2.5 2.5H1159Z" fill="#0d47a1"/>
<text x="1169.7" y="221.9" font-size="12.3" fill="#fff" font-weight="bold" textLength="34.9" lengthAdjust="spacingAndGlyphs">145.09</text>
<path d="M1159 253.4H1208.5q2.5 0 2.5 2.5V267.4q0 2.5 -2.5 2.5H1159Z" fill="#2196f3"/>
<text x="1169.7" y="266.0" font-size="12.3" fill="#fff" font-weight="bold" textLength="34.9" lengthAdjust="spacingAndGlyphs">138.79</text>
<path d="M1159 270.4H1208.5q2.5 0 2.5 2.5V284.4q0 2.5 -2.5 2.5H1159Z" fill="#0d47a1"/>
<text x="1169.7" y="283.0" font-size="12.3" fill="#fff" font-weight="bold" textLength="34.9" lengthAdjust="spacingAndGlyphs">137.07</text>
<path d="M1159 582H1202.5q2.5 0 2.5 2.5V596.5q0 2.5 -2.5 2.5H1159Z" fill="#7e57c2"/>
<text x="1169.1" y="594.8" font-size="12.3" fill="#fff" font-weight="bold" textLength="29.1" lengthAdjust="spacingAndGlyphs">58.12</text>
<text x="87.3" y="688.9" font-size="12.3" fill="#131722" stroke="#131722" stroke-width="0.22" textLength="20.0" lengthAdjust="spacingAndGlyphs">Nov</text>
<text x="235.1" y="688.9" font-size="12.3" fill="#131722" stroke="#131722" stroke-width="0.45" textLength="26.5" lengthAdjust="spacingAndGlyphs">2021</text>
<text x="375.1" y="688.9" font-size="12.3" fill="#131722" stroke="#131722" stroke-width="0.22" textLength="19.7" lengthAdjust="spacingAndGlyphs">Mar</text>
<text x="458.4" y="688.9" font-size="12.3" fill="#131722" stroke="#131722" stroke-width="0.22" textLength="18.7" lengthAdjust="spacingAndGlyphs">Apr</text>
<text x="606.5" y="688.9" font-size="12.3" fill="#131722" stroke="#131722" stroke-width="0.22" textLength="18.3" lengthAdjust="spacingAndGlyphs">Jun</text>
<text x="760.6" y="688.9" font-size="12.3" fill="#131722" stroke="#131722" stroke-width="0.22" textLength="19.0" lengthAdjust="spacingAndGlyphs">Aug</text>
<text x="915.5" y="688.9" font-size="12.3" fill="#131722" stroke="#131722" stroke-width="0.22" textLength="18.6" lengthAdjust="spacingAndGlyphs">Oct</text>
<text x="1015.6" y="688.9" font-size="12.3" fill="#131722" stroke="#131722" stroke-width="0.22" textLength="6.2" lengthAdjust="spacingAndGlyphs">8</text>
<clipPath id="cl"><rect x="0" y="671.5" width="1159" height="30"/></clipPath>
<g clip-path="url(#cl)">
<text x="1142.0" y="688.9" font-size="12.3" fill="#131722" stroke="#131722" stroke-width="0.45" textLength="26.5" lengthAdjust="spacingAndGlyphs">2022</text>
</g>
</g>
<g stroke="#dfe0e5" fill="none" stroke-width="1">
<line x1="10" x2="1227" y1="513.5" y2="513.5"/>
<line x1="10" x2="1227" y1="671.5" y2="671.5"/>
<path d="M9.8 35.5V1.9H1226q1 0 1 1V698.0q0 1 -1 1H9.8V147" stroke-width="2" stroke="#e9ebf1"/>
</g>
<g id="attribution" fill="#131722">
<path d="M10 711.1h8.2v9.7h-4v-5.8h-4.2z"/>
<circle cx="20.8" cy="712.9" r="1.7"/>
<path d="M24 711.1h5.2l-3.9 9.7h-4.8z"/>
<text x="33.0" y="720.8" font-size="13" fill="#2a2e39" font-weight="normal" textLength="70.3" lengthAdjust="spacingAndGlyphs">TradingView</text>
</g>
</svg>
</body>
</html>
